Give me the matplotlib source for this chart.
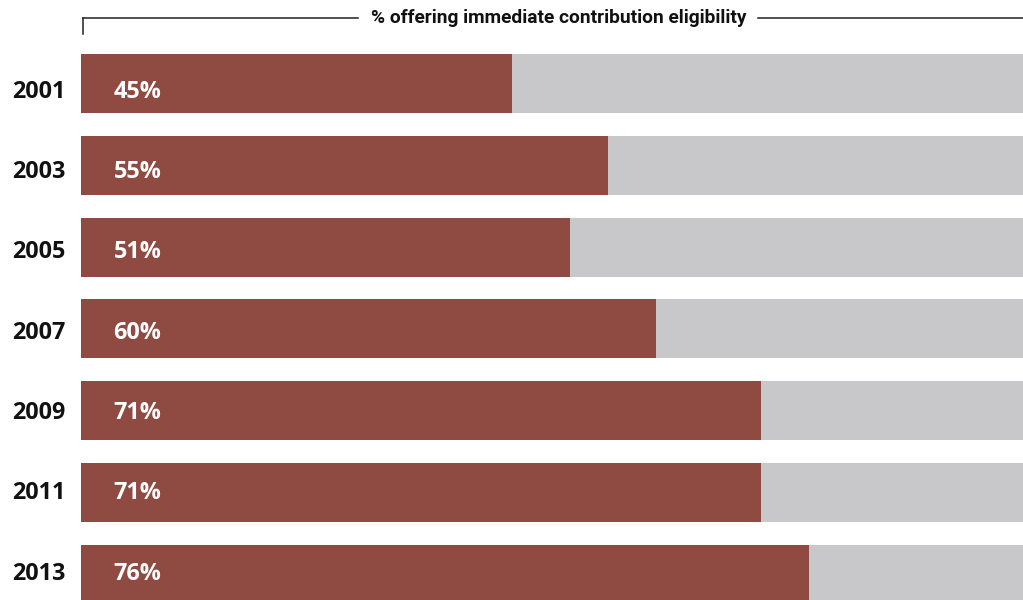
import matplotlib.pyplot as plt
from matplotlib.lines import Line2D

years = ["2001", "2003", "2005", "2007", "2009", "2011", "2013"]
pct = [45, 55, 51, 60, 71, 71, 76]
title = "% offering immediate contribution eligibility"

red = "#8f4a42"
grey = "#c8c8ca"

W, H = 1023, 600
fig = plt.figure(figsize=(W / 100, H / 100), dpi=100)

# axes spans from the bar start to the right edge; grey track runs past the edge
ax = fig.add_axes([81 / W, 0, 942 / W, 1])
ax.set_xlim(0, 98.33)
ax.set_ylim(6.312, -1.0204)
ax.axis("off")

pos = list(range(len(years)))
ax.barh(pos, [100] * len(pos), height=0.721, color=grey, linewidth=0)
ax.barh(pos, pct, height=0.721, color=red, linewidth=0)

# labels are spaced a touch tighter than the bars: below centre at top, above at bottom
for i, (y, v) in enumerate(zip(years, pct)):
    ly_i = i + 0.10 - 0.018 * i
    ax.text(-1.6, ly_i, y, ha="right", va="center", fontsize=16.8,
            fontweight="bold", family="Open Sans", color="#111111")
    ax.text(3.4, ly_i, f"{v}%", ha="left", va="center", fontsize=16.8,
            fontweight="bold", family="Open Sans", color="white")

# bracket heading above the bars
ly = 1 - 18 / H
fig.add_artist(Line2D([83 / W, 83 / W], [1 - 34 / H, ly], color="#222222", lw=1.1))
fig.add_artist(Line2D([83 / W, 358 / W], [ly, ly], color="#222222", lw=1.1))
fig.add_artist(Line2D([758 / W, 1], [ly, ly], color="#222222", lw=1.1))
fig.text(559 / W, ly, title, ha="center", va="center", fontsize=13.8,
         fontweight="bold", family="Roboto", color="#111111")

fig.savefig("out.png", dpi=100)
